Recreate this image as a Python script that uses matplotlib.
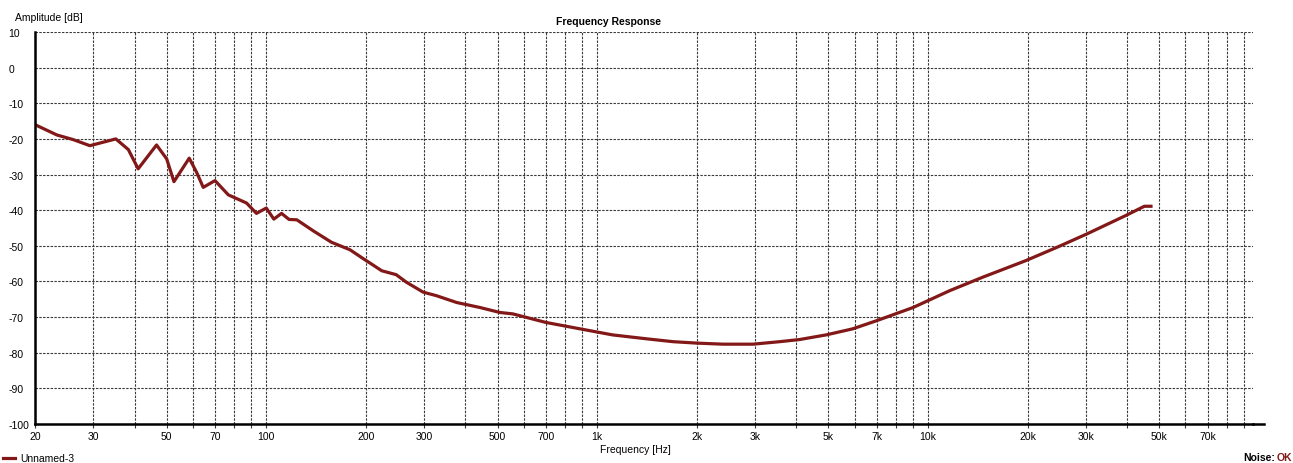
import numpy as np
import matplotlib.pyplot as plt
from matplotlib.ticker import FixedLocator, NullFormatter
from matplotlib.lines import Line2D

# frequency response curve
freq = [20, 23.3, 26.1, 29.3, 35.1, 38.3, 41.0, 46.6, 50.0, 52.6, 58.5, 61.6, 64.5,
        70.0, 76.8, 87.2, 93.4, 100, 105.4, 111.2, 117.2, 123.7, 138.7, 157.4, 179,
        198.6, 223.4, 247, 265, 298, 327, 376, 442, 508, 556, 700, 888, 1114, 1412,
        1697, 2000, 2400, 2960, 3562, 4090, 4920, 5920, 7000, 9020, 11620, 14640,
        19700, 24560, 30160, 39600, 45080, 47200]
amp_db = [-16.0, -18.9, -20.2, -21.9, -20.0, -23.0, -28.4, -21.7, -25.6, -32.0, -25.4,
          -29.4, -33.6, -31.7, -35.7, -38.0, -40.9, -39.4, -42.5, -40.9, -42.6, -42.7,
          -45.8, -49.0, -51.1, -53.9, -57.0, -58.1, -60.2, -63.0, -64.0, -65.9, -67.3,
          -68.7, -69.1, -71.5, -73.3, -75.0, -76.1, -76.9, -77.3, -77.6, -77.6, -76.9,
          -76.3, -75.0, -73.3, -71.0, -67.3, -62.6, -58.8, -54.2, -50.4, -46.7, -41.5,
          -38.9, -38.9]

x_major = [20, 30, 50, 70, 100, 200, 300, 500, 700, 1000, 2000, 3000, 5000, 7000,
           10000, 20000, 30000, 50000, 70000]
x_labels = ['20', '30', '50', '70', '100', '200', '300', '500', '700', '1k', '2k', '3k',
            '5k', '7k', '10k', '20k', '30k', '50k', '70k']
x_minor = [40, 60, 80, 90, 400, 600, 800, 900, 4000, 6000, 8000, 9000,
           40000, 60000, 80000, 90000]
y_ticks = [10, 0, -10, -20, -30, -40, -50, -60, -70, -80, -90, -100]

plt.rcParams['font.family'] = ['Liberation Sans', 'DejaVu Sans']

fig = plt.figure(figsize=(12.93, 4.64), dpi=100)
ax = fig.add_axes([35 / 1293, 1 - 425 / 464, (1253 - 35) / 1293, (425 - 33) / 464])

line_col = '#821818'
ln, = ax.plot(freq, amp_db, color=line_col, lw=2.3, solid_joinstyle='round', label='Unnamed-3')

ax.set_xscale('log')
ax.set_xlim(20, 96000)
ax.set_ylim(-100, 10)

ax.xaxis.set_major_locator(FixedLocator(x_major))
ax.xaxis.set_minor_locator(FixedLocator(x_minor))
ax.set_xticklabels(x_labels)
ax.xaxis.set_minor_formatter(NullFormatter())
ax.set_yticks(y_ticks)
ax.set_yticklabels([str(v) for v in y_ticks])

gkw = dict(color='#3a3a3a', linestyle=(0, (2.2, 1.2)), linewidth=0.8)
ax.grid(True, which='both', axis='x', **gkw)
ax.grid(True, which='major', axis='y', **gkw)

for s in ['top', 'right']:
    ax.spines[s].set_visible(False)
ax.spines['left'].set_linewidth(1.8)
ax.spines['bottom'].set_linewidth(1.8)
ax.spines['left'].set_color('black')
ax.spines['bottom'].set_color('black')

ax.tick_params(axis='x', which='both', direction='out', length=3, width=0.8,
               color='#3a3a3a', labelsize=7.5, pad=2)
ax.tick_params(axis='y', length=0, labelsize=7.5, pad=19)
for lab in ax.get_yticklabels():
    lab.set_horizontalalignment('left')

# bottom axis runs a little past the plot area
fig.add_artist(Line2D([1253 / 1293, 1264 / 1293], [1 - 425 / 464] * 2, color='black', lw=1.8))

fig.text(609 / 1293, 1 - 22 / 464, 'Frequency Response', ha='center', va='center',
         fontsize=7.5, fontweight='bold')
fig.text(15 / 1293, 1 - 18 / 464, 'Amplitude [dB]', ha='left', va='center', fontsize=7.5)
fig.text(635 / 1293, 1 - 450 / 464, 'Frequency [Hz]', ha='center', va='center', fontsize=7.5)

fig.add_artist(Line2D([3 / 1293, 15 / 1293], [1 - 459 / 464] * 2, color=line_col, lw=2.3))
fig.text(20 / 1293, 1 - 459 / 464, 'Unnamed-3', ha='left', va='center', fontsize=7.5)
fig.text(1275 / 1293, 1 - 458 / 464, 'Noise:', ha='right', va='center', fontsize=7.5,
         fontweight='bold')
fig.text(1277 / 1293, 1 - 458 / 464, 'OK', ha='left', va='center', fontsize=7.5,
         fontweight='bold', color=line_col)

fig.savefig('out.png', dpi=100)
